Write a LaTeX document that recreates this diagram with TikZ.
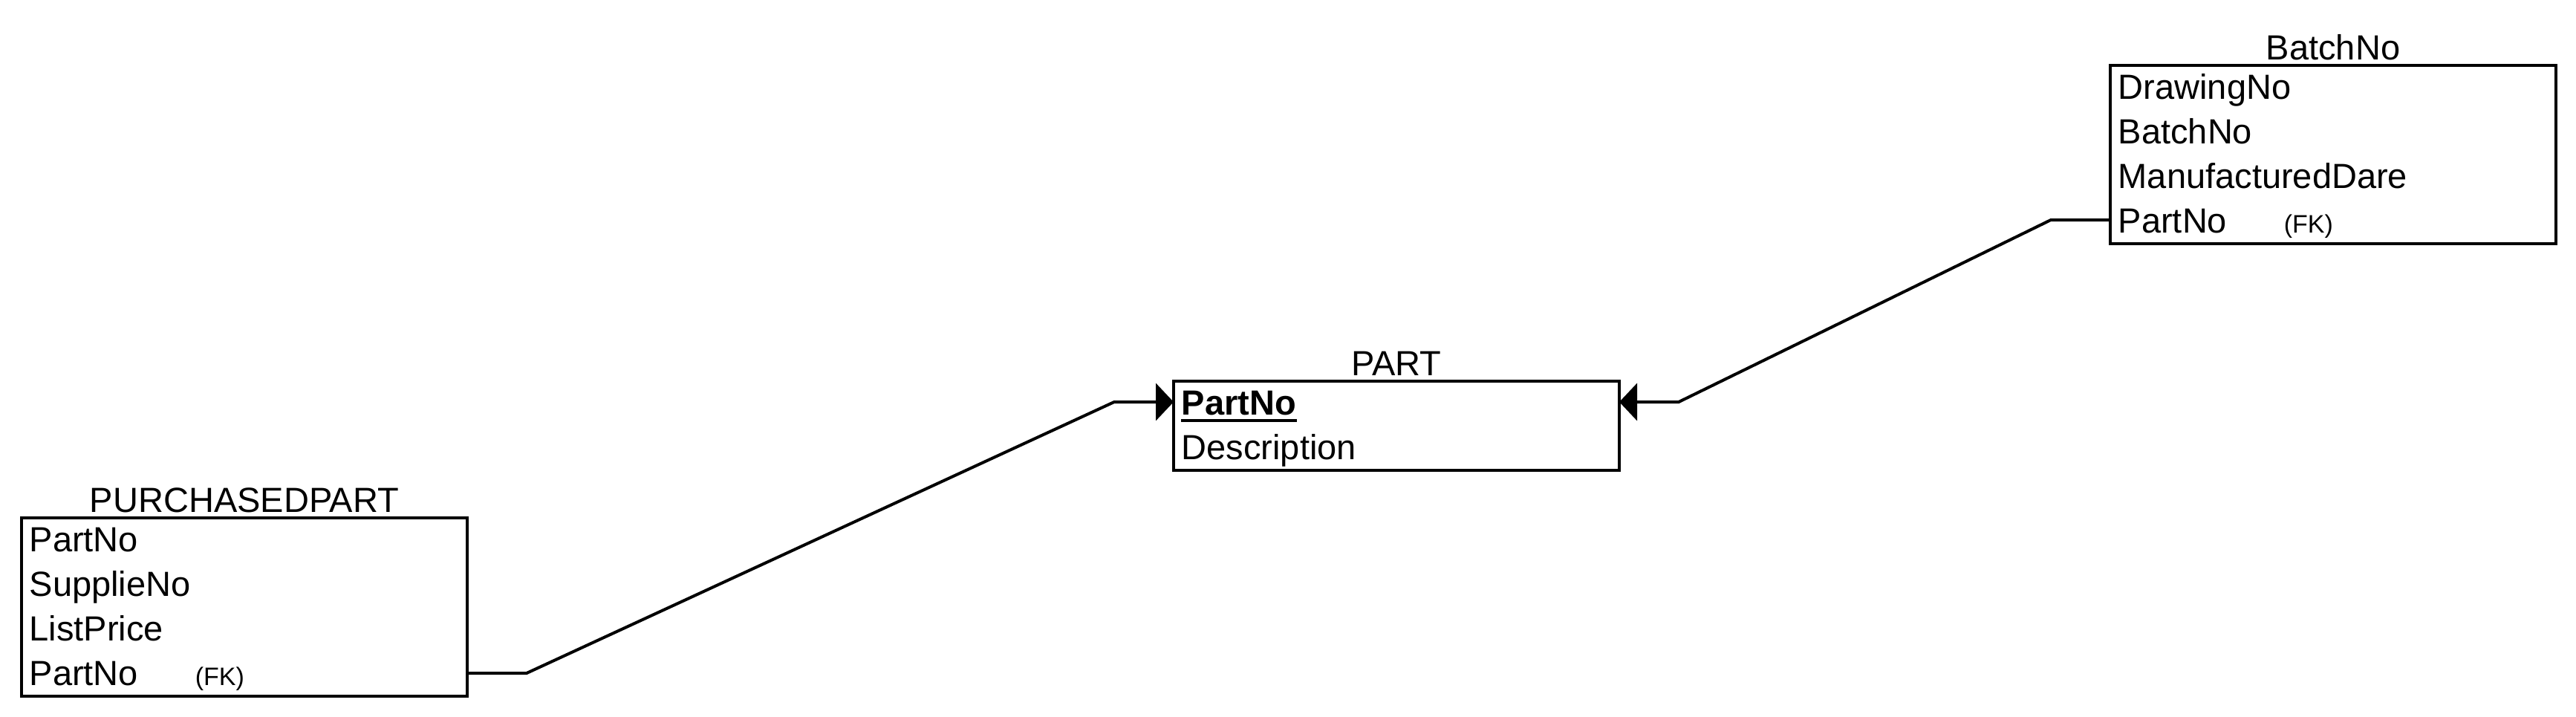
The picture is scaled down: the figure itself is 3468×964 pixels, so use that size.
\documentclass[tikz,border=0pt]{standalone}
\usepackage{fontspec}
\setmainfont{Liberation Sans}
\usetikzlibrary{arrows.meta,calc}
\begin{document}
\begin{tikzpicture}[x=0.25pt,y=-0.25pt,
  tbl/.style={draw,line width=1pt,rectangle,minimum width=150pt,inner sep=0pt,outer sep=0pt},
  txt/.style={anchor=base west,inner sep=0pt,font=\fontsize{11.75}{14}\selectfont},
  ttl/.style={anchor=base,inner sep=0pt,font=\fontsize{11.75}{14}\selectfont},
  keytxt/.style={txt,font=\fontsize{11.75}{14}\selectfont\bfseries},
  fk/.style={anchor=base west,inner sep=0pt,font=\fontsize{8.5}{10}\selectfont},
  conn/.style={line width=1pt},
  arr/.style={-{Triangle[length=6pt,width=12.5pt]}}]
\useasboundingbox (0,0) rectangle (3468,964);

% tables
\node[tbl,minimum height=60pt] (pp) at (329,817) {};
\node[tbl,minimum height=30pt] (part) at (1880,573) {};
\node[tbl,minimum height=60pt] (bn) at (3141,208) {};

% titles
\node[ttl] (ppt) at (329,689) {PURCHASEDPART};
\node[ttl] (partt) at (1880,505) {PART};
\node[ttl] (bnt) at (3141,80) {BatchNo};

% PURCHASEDPART rows
\node[txt] (pp1) at (39,742) {PartNo};
\node[txt] (pp2) at (39,802) {SupplieNo};
\node[txt] (pp3) at (39,862) {ListPrice};
\node[txt] (pp4) at (39,922) {PartNo};
\node[fk] (ppfk) at (262,922) {(FK)};

% PART rows
\node[keytxt] (part1) at (1590,558) {PartNo};
\node[txt] (part2) at (1590,618) {Description};
\draw[line width=1pt] ([yshift=-1.9pt]part1.base west) -- ([yshift=-1.9pt]part1.base east);

% BatchNo rows
\node[txt] (bn1) at (2851,133) {DrawingNo};
\node[txt] (bn2) at (2851,193) {BatchNo};
\node[txt] (bn3) at (2851,253) {ManufacturedDare};
\node[txt] (bn4) at (2851,313) {PartNo};
\node[fk] (bnfk) at (3074,313) {(FK)};

% row centre coordinates
\coordinate (pprow4) at (329,906);
\coordinate (partrow1) at (1880,541);
\coordinate (bnrow4) at (3141,296);

% connectors
\draw[conn,arr] (pp.east |- pprow4) -- ++(80,0) -- ($(part.west |- partrow1)+(-80,0)$) -- (part.west |- partrow1);
\draw[conn,arr] (bn.west |- bnrow4) -- ++(-80,0) -- ($(part.east |- partrow1)+(80,0)$) -- (part.east |- partrow1);
\end{tikzpicture}
\end{document}
